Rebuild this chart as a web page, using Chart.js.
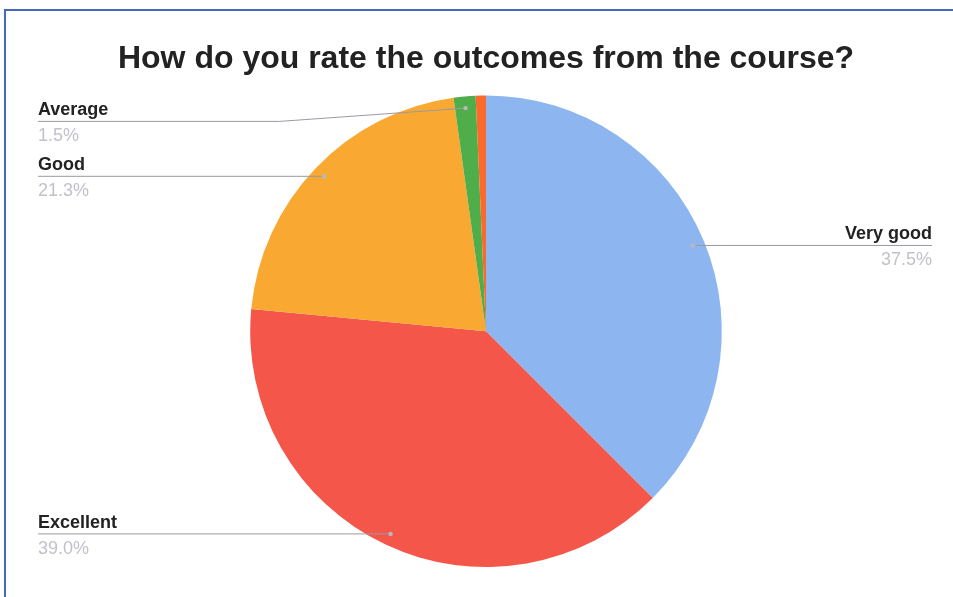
<!DOCTYPE html>
<html>
<head>
<meta charset="utf-8">
<script src="https://cdn.jsdelivr.net/npm/chart.js@4/dist/chart.umd.min.js"></script>
<style>
  body { margin: 0; background: #fff; }
  #wrap { position: relative; width: 953px; height: 597px; }
  #frame { position: absolute; left: 4px; top: 9px; right: -4px; bottom: -4px;
           border-left: 2px solid #4468bb; border-top: 2px solid #4468bb; }
  canvas { position: absolute; left: 0; top: 0; }
</style>
</head>
<body>
<div id="wrap">
  <div id="frame"></div>
  <canvas id="outcomesChart" width="953" height="597"></canvas>
</div>
<script>
// datos del gráfico
const ratingLabels = ['Very good', 'Excellent', 'Good', 'Average', 'Poor'];
const ratingValues = [37.5, 39.0, 21.3, 1.5, 0.7];
const ratingColors = ['#8db5f0', '#f5564a', '#f9a932', '#4fae4a', '#fa6a2c'];

// etiquetas con línea guía, estilo hoja de cálculo
const sideLabels = {
    id: 'sideLabels',
    afterDatasetsDraw(chart) {
        const ctx = chart.ctx;
        const area = chart.chartArea;
        const meta = chart.getDatasetMeta(0);
        meta.data.forEach(function(arc, i) {
            if (ratingValues[i] < 1) return;
            const p = arc.getProps(['x', 'y', 'startAngle', 'endAngle', 'outerRadius'], true);
            const mid = (p.startAngle + p.endAngle) / 2;
            const dx = p.x + Math.cos(mid) * p.outerRadius * 0.95;
            const dy = p.y + Math.sin(mid) * p.outerRadius * 0.95;
            const right = Math.cos(mid) > 0;
            const ly = Math.max(dy, area.top + 26);
            const ex = right ? chart.width - 21 : 38;

            ctx.save();
            ctx.strokeStyle = '#9a9aa2';
            ctx.lineWidth = 1;
            ctx.beginPath();
            ctx.moveTo(dx, dy);
            if (ly !== dy) {
                const bx = right ? dx + (ly - dy) * 14 : dx - (ly - dy) * 14;
                ctx.lineTo(bx, ly);
            }
            ctx.lineTo(ex, ly);
            ctx.stroke();

            ctx.fillStyle = '#b8b8bc';
            ctx.beginPath();
            ctx.arc(dx, dy, 2.2, 0, Math.PI * 2);
            ctx.fill();

            ctx.textAlign = right ? 'right' : 'left';
            ctx.textBaseline = 'alphabetic';
            ctx.fillStyle = '#222';
            ctx.font = 'bold 18px "Liberation Sans", Arial, sans-serif';
            ctx.fillText(ratingLabels[i], ex, ly - 6);
            ctx.textBaseline = 'top';
            ctx.fillStyle = '#c2c0ca';
            ctx.font = '18px "Liberation Sans", Arial, sans-serif';
            ctx.fillText(ratingValues[i].toFixed(1) + '%', ex, ly + 6);
            ctx.restore();
        });
    }
};

const ctx = document.getElementById('outcomesChart').getContext('2d');
const outcomesChart = new Chart(ctx, {
    type: 'pie',
    data: {
        labels: ratingLabels,
        datasets: [{
            data: ratingValues,
            backgroundColor: ratingColors,
            borderWidth: 0
        }]
    },
    options: {
        responsive: false,
        animation: false,
        layout: {
            padding: { left: 40, right: 21, top: 0, bottom: 30 }
        },
        plugins: {
            legend: { display: false },
            tooltip: { enabled: false },
            title: {
                display: true,
                text: 'How do you rate the outcomes from the course?',
                color: '#222',
                font: { family: '"Liberation Sans", Arial, sans-serif', size: 32, weight: 'bold' },
                padding: { top: 40, bottom: 17 }
            }
        }
    },
    plugins: [sideLabels]
});
</script>
</body>
</html>
